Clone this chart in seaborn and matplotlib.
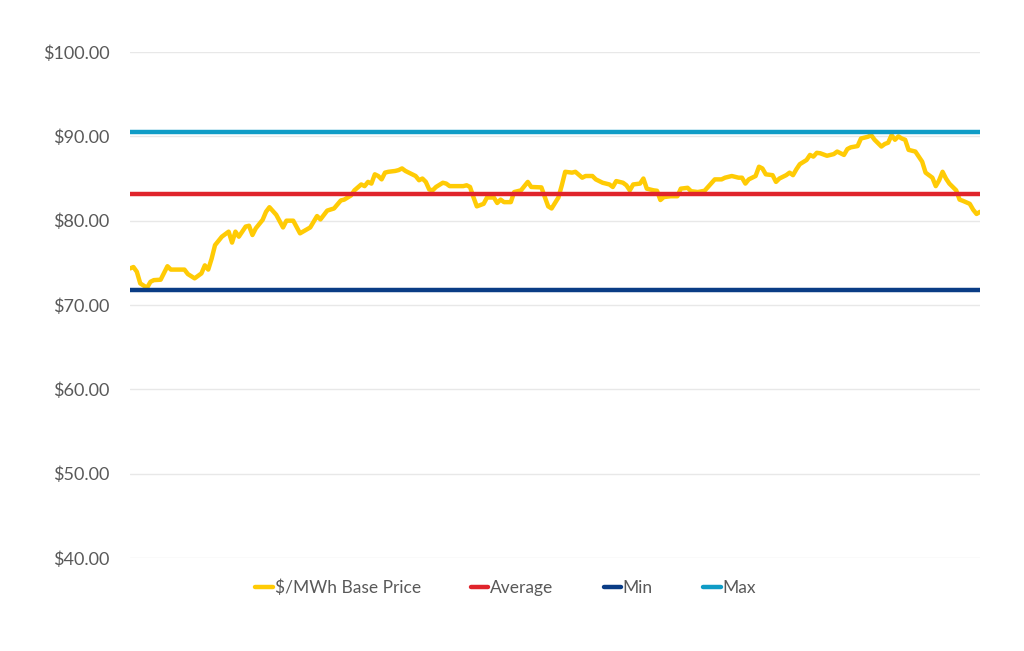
import matplotlib
matplotlib.use("Agg")
import matplotlib.pyplot as plt
import seaborn as sns
import pandas as pd

# trading day index and daily base price ($/MWh)
days = [0, 1, 2, 3, 5, 6, 7, 9, 11, 12, 16, 17, 19, 21, 22, 23, 24, 25, 27, 29,
        30, 31, 32, 34, 35, 36, 37, 39, 40, 41, 43, 45, 46, 48, 50, 53, 55, 56, 58, 60,
        62, 63, 65, 66, 68, 69, 70, 71, 72, 73, 74, 75, 76, 78, 79, 80, 81, 83, 84, 85,
        86, 87, 88, 89, 90, 92, 93, 94, 98, 99, 100, 101, 102, 104, 105, 107, 108, 109, 110, 112,
        113, 115, 117, 118, 121, 122, 123, 124, 126, 127, 128, 130, 131, 133, 134, 136, 137, 139, 141, 142,
        143, 145, 146, 147, 148, 150, 151, 152, 154, 155, 156, 157, 159, 161, 162, 164, 165, 167, 169, 170,
        172, 174, 175, 177, 179, 180, 181, 182, 184, 185, 186, 187, 189, 190, 191, 193, 194, 195, 196, 197,
        199, 200, 201, 202, 203, 205, 207, 208, 210, 211, 212, 214, 215, 217, 218, 219, 221, 222, 223, 224,
        225, 226, 227, 228, 229, 231, 233, 234, 236, 237, 238, 239, 240, 241, 243, 244, 245, 247, 248, 249,
        250]
base_price = [74.34, 74.5, 73.94, 72.56, 72.04, 72.75, 72.95, 73.0, 74.6, 74.2, 74.2, 73.67, 73.16, 73.75, 74.7, 74.2, 75.5, 77.1, 78.1, 78.7,
              77.4, 78.7, 78.1, 79.3, 79.4, 78.3, 79.1, 80.1, 81.06, 81.6, 80.7, 79.2, 80.0, 80.0, 78.5, 79.2, 80.55, 80.15, 81.2, 81.45,
              82.4, 82.5, 83.0, 83.6, 84.3, 84.1, 84.6, 84.4, 85.5, 85.3, 84.9, 85.7, 85.8, 85.9, 86.0, 86.2, 85.9, 85.5, 85.3, 84.8,
              85.0, 84.6, 83.7, 83.6, 84.0, 84.5, 84.4, 84.1, 84.1, 84.2, 84.0, 82.8, 81.7, 82.0, 82.75, 82.75, 82.1, 82.5, 82.2, 82.2,
              83.4, 83.6, 84.6, 84.0, 83.95, 82.8, 81.7, 81.45, 82.75, 84.2, 85.8, 85.7, 85.8, 85.1, 85.3, 85.3, 84.9, 84.5, 84.3, 84.0,
              84.7, 84.5, 84.2, 83.6, 84.3, 84.4, 85.0, 83.8, 83.6, 83.55, 82.45, 82.8, 82.9, 82.9, 83.8, 83.9, 83.5, 83.4, 83.55, 84.0,
              84.9, 84.9, 85.1, 85.3, 85.1, 85.1, 84.4, 84.9, 85.3, 86.4, 86.2, 85.5, 85.4, 84.6, 85.0, 85.4, 85.7, 85.4, 86.1, 86.7,
              87.2, 87.8, 87.6, 88.05, 88.0, 87.7, 87.9, 88.2, 87.8, 88.5, 88.7, 88.85, 89.75, 89.95, 90.15, 89.6, 88.8, 89.1, 89.25, 90.15,
              89.6, 90.0, 89.75, 89.6, 88.4, 88.2, 87.0, 85.7, 85.1, 84.1, 84.8, 85.8, 85.0, 84.4, 83.6, 82.5, 82.35, 82.0, 81.3, 80.8,
              81.05]

average_price = 83.16
min_price = 71.77
max_price = 90.47

series_names = ["$/MWh Base Price", "Average", "Min", "Max"]
series_colors = ["#FFCB05", "#E0242B", "#0A3C85", "#0F9CC6"]

# long-form table: price series plus the three reference levels
frames = [pd.DataFrame({"day": days, "price": base_price, "series": series_names[0]})]
for name, level in zip(series_names[1:], [average_price, min_price, max_price]):
    frames.append(pd.DataFrame({"day": [days[0], days[-1]], "price": [level, level], "series": name}))
df = pd.concat(frames, ignore_index=True)

sns.set_theme(style="white")
plt.rcParams["font.family"] = ["Lato", "DejaVu Sans"]

fig = plt.figure(figsize=(10.24, 6.51), dpi=100)
ax = fig.add_axes([0.127, 0.143, 0.830, 0.777])

sns.lineplot(data=df, x="day", y="price", hue="series", hue_order=series_names,
             palette=series_colors, linewidth=3.2, ax=ax, legend=True,
             estimator=None, sort=False)

ax.set_xlim(days[0], days[-1])
ax.set_ylim(40, 100)
ax.set_yticks([40, 50, 60, 70, 80, 90, 100])
ax.set_yticklabels([f"${v:.2f}" for v in [40, 50, 60, 70, 80, 90, 100]])
ax.set_xticks([])
ax.set_xlabel("")
ax.set_ylabel("")
ax.tick_params(axis="y", length=0, pad=15, labelsize=13, labelcolor="#595959")
ax.yaxis.grid(True, color="#e8e8e8", linewidth=1)
ax.set_axisbelow(True)
sns.despine(ax=ax, left=True, bottom=True)

leg = ax.legend(loc="upper center", bbox_to_anchor=(0.442, -0.011), ncol=4, frameon=False,
                fontsize=12.5, handlelength=1.0, handletextpad=0.1, columnspacing=2.9)
for txt in leg.get_texts():
    txt.set_color("#595959")
for line in leg.get_lines():
    line.set_linewidth(3.2)

fig.savefig("out.png", dpi=100)
